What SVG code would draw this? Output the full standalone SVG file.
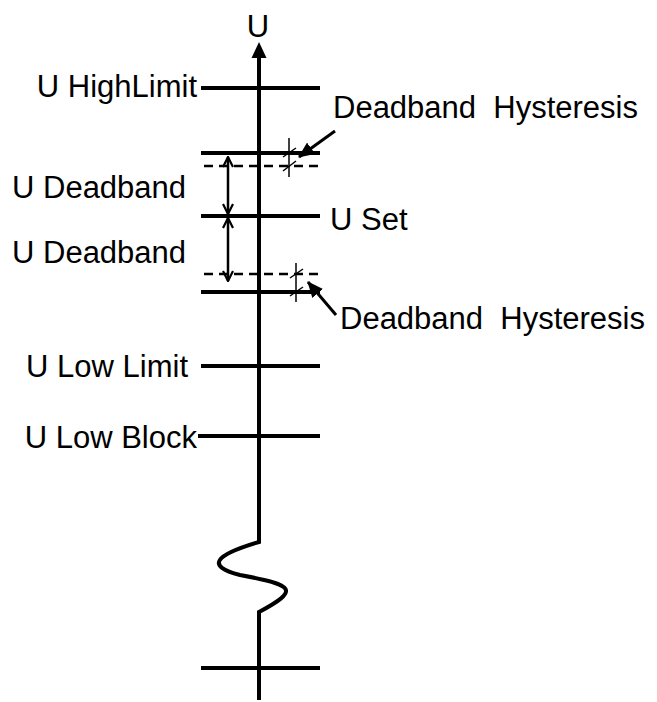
<svg xmlns="http://www.w3.org/2000/svg" width="657" height="702" viewBox="0 0 657 702">
<defs>
<style>
text{font-family:"Liberation Sans",Arial,sans-serif;font-size:31px;fill:#000;white-space:pre}
.lvl{stroke:#000;stroke-width:4;fill:none}
.dash{stroke:#000;stroke-width:2.5;stroke-dasharray:9,6;fill:none}
.dim{stroke:#000;stroke-width:2.5;fill:none}
.thin{stroke:#000;stroke-width:1.5;fill:none}
.lead{stroke:#000;stroke-width:3;fill:none}
</style>
<marker id="open" viewBox="0 0 12 12" refX="11" refY="6" markerWidth="12" markerHeight="12" markerUnits="userSpaceOnUse" orient="auto-start-reverse">
<path d="M1,1 L11,6 L1,11" fill="none" stroke="#000" stroke-width="2.2"/>
</marker>
<marker id="fill" viewBox="0 0 16 14" refX="15" refY="7" markerWidth="16" markerHeight="14" markerUnits="userSpaceOnUse" orient="auto">
<path d="M0,0 L16,7 L0,14 Z" fill="#000"/>
</marker>
</defs>
<g id="axis-group">
<path class="lvl" d="M259,700 L259,612 C300,590 295,585 240,575 C205,566 215,555 259,542 L259,56" />
<path d="M251.5,58 L259,42 L266.5,58 Z" fill="#000"/>
<text x="258" y="37" text-anchor="middle">U</text>
</g>
<g id="high-limit">
<line class="lvl" x1="201" y1="88" x2="320" y2="88"/>
<text x="197" y="97" text-anchor="end">U HighLimit</text>
</g>
<g id="upper-deadband">
<line class="lvl" x1="201" y1="153" x2="320" y2="153"/>
<line class="dash" x1="204" y1="166" x2="320" y2="166"/>
</g>
<g id="u-set">
<line class="lvl" x1="201" y1="216" x2="320" y2="216"/>
<text x="330" y="230">U Set</text>
</g>
<g id="lower-deadband">
<line class="dash" x1="204" y1="274" x2="320" y2="274"/>
<line class="lvl" x1="201" y1="292" x2="320" y2="292"/>
</g>
<g id="low-limit">
<line class="lvl" x1="201" y1="366" x2="320" y2="366"/>
<text x="188" y="377" text-anchor="end">U Low Limit</text>
</g>
<g id="low-block">
<line class="lvl" x1="198" y1="436" x2="320" y2="436"/>
<text x="197" y="448" text-anchor="end">U Low Block</text>
</g>
<g id="bottom">
<line class="lvl" x1="201" y1="668" x2="320" y2="668"/>
</g>
<g id="deadband-labels">
<text x="12" y="198">U Deadband</text>
<text x="12" y="263">U Deadband</text>
</g>
<g id="hysteresis-upper">
<line class="thin" x1="289" y1="138" x2="289" y2="177"/>
<line class="thin" x1="283" y1="157" x2="296" y2="148"/>
<line class="thin" x1="283" y1="171" x2="296" y2="161"/>
<text x="333" y="118">Deadband  Hysteresis</text>
</g>
<g id="hysteresis-lower">
<line class="thin" x1="296" y1="263" x2="296" y2="302"/>
<line class="thin" x1="290" y1="278" x2="303" y2="269"/>
<line class="thin" x1="290" y1="296" x2="303" y2="287"/>
<text x="340" y="329">Deadband  Hysteresis</text>
</g>
<g id="connectors">
<line class="dim" x1="228" y1="157" x2="228" y2="214" marker-start="url(#open)" marker-end="url(#open)"/>
<line class="dim" x1="228" y1="218" x2="228" y2="281" marker-start="url(#open)" marker-end="url(#open)"/>
<line class="lead" x1="335" y1="131" x2="299" y2="157" marker-end="url(#fill)"/>
<line class="lead" x1="336" y1="315" x2="308" y2="282" marker-end="url(#fill)"/>
</g>
</svg>
